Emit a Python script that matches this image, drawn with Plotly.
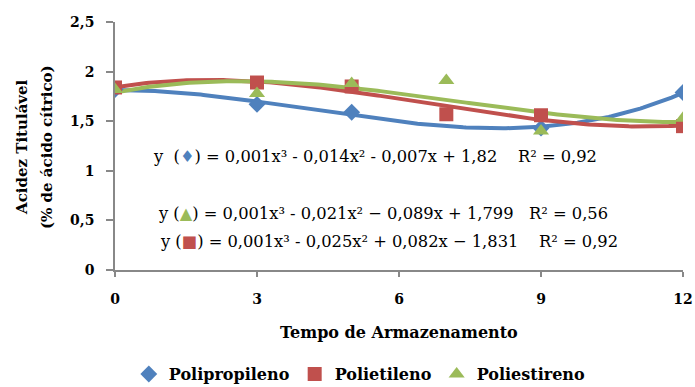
import numpy as np
import plotly.graph_objects as go

# Data
x_pp = [0, 3, 5, 9, 12]
y_pp = [1.82, 1.67, 1.59, 1.43, 1.79]          # Polipropileno

x_pe = [0, 3, 5, 7, 9, 12]
y_pe = [1.84, 1.89, 1.85, 1.57, 1.56, 1.45]    # Polietileno

x_ps = [0, 3, 5, 7, 9, 12]
y_ps = [1.82, 1.78, 1.88, 1.91, 1.40, 1.53]    # Poliestireno

x_ticks = [0, 3, 6, 9, 12]

names = ["Polipropileno", "Polietileno", "Poliestireno"]
colors = ["#4F81BD", "#C0504D", "#9BBB59"]
symbols = ["diamond", "square", "triangle-up"]
msizes = [13, 14, 14]

series = [(x_pp, y_pp), (x_pe, y_pe), (x_ps, y_ps)]

fig = go.Figure()

# Cubic polynomial trendlines (fitted to the data)
xs = np.linspace(0, 12, 200)
for (xx, yy), c in zip(series, colors):
    coef = np.polyfit(xx, yy, 3)
    fig.add_trace(go.Scatter(x=xs, y=np.polyval(coef, xs), mode="lines",
                             line=dict(color=c, width=4), showlegend=False,
                             hoverinfo="skip"))

for (xx, yy), n, c, s, ms in zip(series, names, colors, symbols, msizes):
    fig.add_trace(go.Scatter(x=xx, y=yy, mode="markers", name=n,
                             marker=dict(color=c, symbol=s, size=ms)))

SERIF = "DejaVu Serif"
axfont = dict(family=SERIF, size=14, color="#000", weight="bold")

fig.update_layout(
    width=695, height=387,
    margin=dict(l=115, r=12, t=22, b=117, autoexpand=False),
    paper_bgcolor="white", plot_bgcolor="white",
    separators=", ",
    font=dict(family=SERIF),
    showlegend=True,
    legend=dict(orientation="h", x=0.431, xanchor="center", y=-0.42, yanchor="middle",
                font=dict(family=SERIF, size=16, color="#000", weight="bold"),
                itemwidth=30, tracegroupgap=0, bgcolor="rgba(0,0,0,0)"),
    xaxis=dict(range=[0, 12], tickvals=x_ticks, showgrid=False, zeroline=False,
               showline=True, linecolor="#888", linewidth=1.5,
               ticks="outside", ticklen=5, tickcolor="#888", tickwidth=1.5,
               tickfont=axfont, ticklabelstandoff=10),
    yaxis=dict(range=[0, 2.5], dtick=0.5, showgrid=False, zeroline=False,
               showline=True, linecolor="#888", linewidth=1.5,
               ticks="outside", ticklen=7, tickcolor="#888", tickwidth=1.5,
               tickfont=axfont, ticklabelstandoff=9),
)

# Axis titles
ytitle_font = dict(family=SERIF, size=15, color="#000", weight="bold")
for txt, px in [("Acidez Titulável", 22), ("(% de ácido cítrico)", 47)]:
    fig.add_annotation(text=txt, xref="paper", yref="paper",
                       x=(px - 115) / 568, y=(270 - 147) / 248, xanchor="center", yanchor="middle",
                       textangle=-90, showarrow=False, font=ytitle_font)
fig.add_annotation(text="Tempo de Armazenamento", xref="paper", yref="paper",
                   x=0.5, y=(270 - 332) / 248, xanchor="center", yanchor="middle",
                   showarrow=False, font=dict(family=SERIF, size=16, color="#000", weight="bold"))

# Regression equations
S = "\u00a0"
eqs = [
    (f"y{S}{S}(<span style='color:#4F81BD'>♦</span>) = 0,001x³ - 0,014x² - 0,007x + 1,82{S*4}R² = 0,92", 151, 156),
    (f"y{S}(<span style='color:#9BBB59'>▲</span>) = 0,001x³ - 0,021x² − 0,089x + 1,799{S*3}R² = 0,56", 156, 213),
    (f"y{S}(<span style='color:#C0504D'>■</span>) = 0,001x³ - 0,025x² + 0,082x − 1,831{S*4}R² = 0,92", 158, 241),
]
for txt, px, py in eqs:
    fig.add_annotation(text=txt, xref="paper", yref="paper",
                       x=(px - 115) / 568, y=(270 - py) / 248, xanchor="left", yanchor="middle",
                       showarrow=False, font=dict(family=SERIF, size=16.3, color="#000"))

fig.write_html("out.html")
